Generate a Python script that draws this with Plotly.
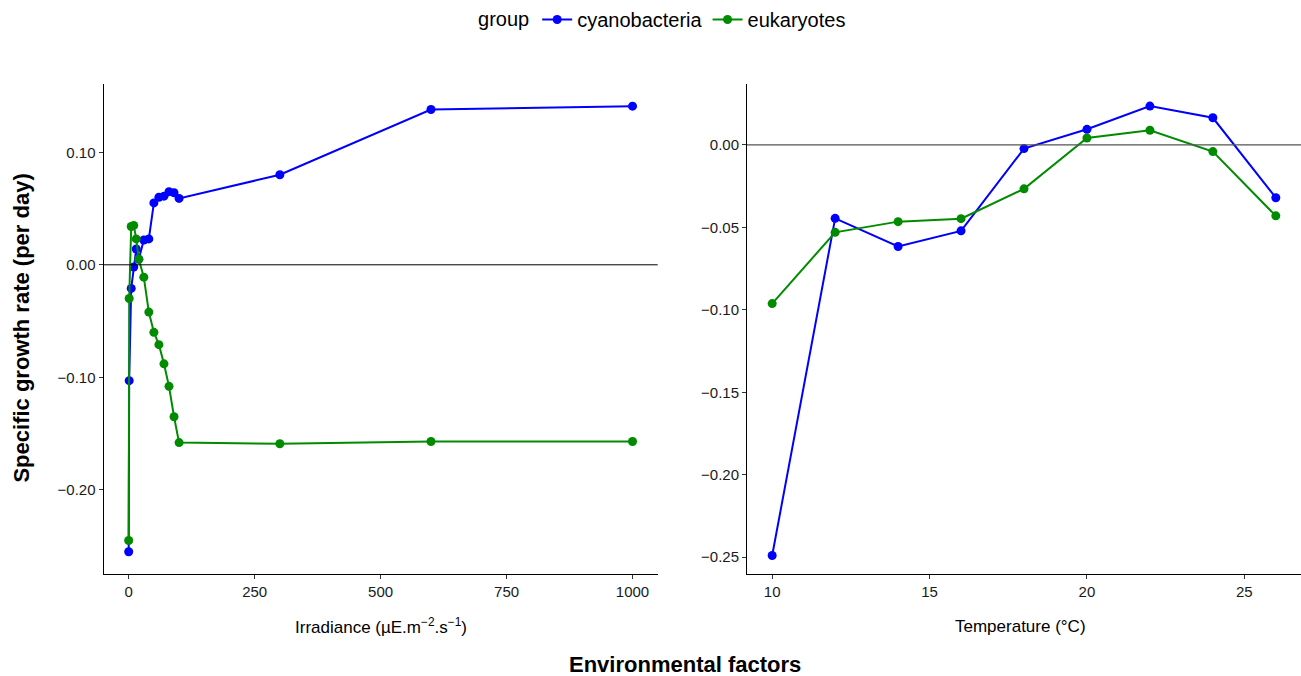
import plotly.graph_objects as go

# ---- data: irradiance panel ----
irr_cyano_x = [0, 1, 5, 10, 15, 20, 30, 40, 50, 60, 70, 80, 90, 100, 300, 600, 1000]
irr_cyano_y = [-0.255, -0.103, -0.021, -0.002, 0.014, 0.005, 0.022, 0.023, 0.055, 0.060,
               0.061, 0.065, 0.064, 0.059, 0.080, 0.138, 0.141]
irr_euk_x = [0, 1, 5, 10, 15, 20, 30, 40, 50, 60, 70, 80, 90, 100, 300, 600, 1000]
irr_euk_y = [-0.245, -0.030, 0.034, 0.035, 0.023, 0.005, -0.011, -0.042, -0.060, -0.071,
             -0.088, -0.108, -0.135, -0.158, -0.159, -0.157, -0.157]

# ---- data: temperature panel ----
temp_x = [10, 12, 14, 16, 18, 20, 22, 24, 26]
temp_cyano_y = [-0.249, -0.0445, -0.0616, -0.0521, -0.0022, 0.0095, 0.0236, 0.0165, -0.032]
temp_euk_y = [-0.0962, -0.053, -0.0465, -0.0447, -0.0266, 0.0042, 0.0089, -0.004, -0.043]

groups = ["cyanobacteria", "eukaryotes"]
colors = {"cyanobacteria": "#0000FF", "eukaryotes": "#008B00"}

W, H = 1301, 676
FONT = "Liberation Sans, Arial, sans-serif"

def px_x(p):
    return p / W

def px_y(p):
    return (H - p) / H

fig = go.Figure()

series = [
    ("cyanobacteria", irr_cyano_x, irr_cyano_y, "x", "y", True),
    ("eukaryotes", irr_euk_x, irr_euk_y, "x", "y", True),
    ("cyanobacteria", temp_x, temp_cyano_y, "x2", "y2", False),
    ("eukaryotes", temp_x, temp_euk_y, "x2", "y2", False),
]
for name, xs, ys, xa, ya, show in series:
    fig.add_trace(go.Scatter(
        x=xs, y=ys, mode="lines+markers", name=name, legendgroup=name,
        showlegend=show, xaxis=xa, yaxis=ya,
        line=dict(color=colors[name], width=2),
        marker=dict(color=colors[name], size=9),
    ))

ydom = [px_y(574), px_y(81)]
axis_common = dict(
    showline=True, linecolor="#000000", linewidth=1,
    ticks="outside", ticklen=4, tickcolor="#333333", tickwidth=1,
    showgrid=False, zeroline=False, automargin=False,
    tickfont=dict(family=FONT, size=15, color="#1a1a1a"),
)

fig.update_layout(
    xaxis=dict(domain=[px_x(103.5), px_x(657.7)], range=[-50, 1050],
               tickvals=[0, 250, 500, 750, 1000], anchor="y", **axis_common),
    yaxis=dict(domain=ydom, range=[-0.2752, 0.1610],
               tickvals=[-0.2, -0.1, 0.0, 0.1], tickformat=".2f", anchor="x", **axis_common),
    xaxis2=dict(domain=[px_x(747), 1.0], range=[9.2, 26.8],
                tickvals=[10, 15, 20, 25], anchor="y2", **axis_common),
    yaxis2=dict(domain=ydom, range=[-0.2605, 0.0372],
                tickvals=[-0.25, -0.2, -0.15, -0.1, -0.05, 0.0], tickformat=".2f",
                anchor="x2", **axis_common),
    width=W, height=H,
    margin=dict(l=0, r=0, t=0, b=0),
    paper_bgcolor="white", plot_bgcolor="white",
    font=dict(family=FONT, color="#000000"),
    legend=dict(orientation="h", x=0.51, xanchor="center", y=1.005, yanchor="top",
                title=dict(text="group", font=dict(size=20, family=FONT)),
                font=dict(size=20, family=FONT), itemwidth=30,
                bgcolor="rgba(0,0,0,0)"),
)

# zero reference lines
fig.add_shape(type="line", xref="x domain", yref="y", x0=0, x1=1, y0=0, y1=0,
              line=dict(color="#000000", width=1))
fig.add_shape(type="line", xref="x2 domain", yref="y2", x0=0, x1=1, y0=0, y1=0,
              line=dict(color="#555555", width=1.2))

# titles as annotations
fig.add_annotation(text="Irradiance (µE.m<sup>−2</sup>.s<sup>−1</sup>)",
                   x=px_x((103.5 + 657.7) / 2), y=px_y(626), xref="paper", yref="paper",
                   showarrow=False, xanchor="center", yanchor="middle",
                   font=dict(family=FONT, size=17, color="#000000"))
fig.add_annotation(text="Temperature (°C)",
                   x=px_x(1020), y=px_y(626), xref="paper", yref="paper",
                   showarrow=False, xanchor="center", yanchor="middle",
                   font=dict(family=FONT, size=17, color="#000000"))
fig.add_annotation(text="<b>Specific growth rate (per day)</b>",
                   x=px_x(22), y=px_y(327), xref="paper", yref="paper", textangle=-90,
                   showarrow=False, xanchor="center", yanchor="middle",
                   font=dict(family=FONT, size=22, color="#000000"))
fig.add_annotation(text="<b>Environmental factors</b>",
                   x=px_x(685), y=px_y(664), xref="paper", yref="paper",
                   showarrow=False, xanchor="center", yanchor="middle",
                   font=dict(family=FONT, size=22, color="#000000"))

fig.write_html("out.html", config={"displayModeBar": False},
               post_script="document.body.style.margin='0';document.body.style.overflow='hidden';")
